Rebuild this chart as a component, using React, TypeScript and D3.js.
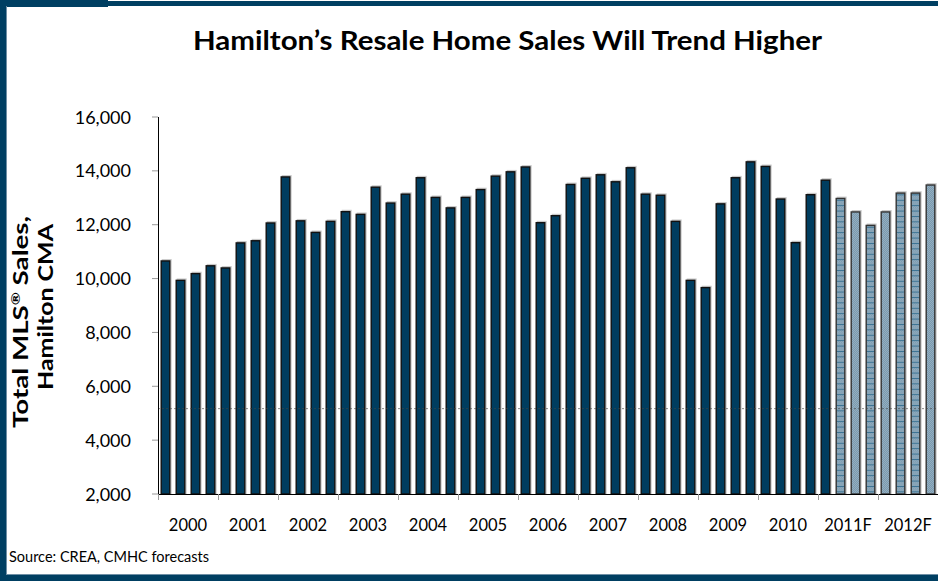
import React from "react";
import * as d3 from "d3";

const years = ["2000", "2001", "2002", "2003", "2004", "2005", "2006", "2007", "2008", "2009", "2010", "2011F", "2012F"];
const salesActual = [
  10680, 9960, 10210, 10500, 10420, 11350, 11430, 12090, 13800, 12170,
  11740, 12150, 12510, 12410, 13420, 12830, 13160, 13770, 13040, 12650,
  13040, 13330, 13830, 13990, 14170, 12100, 12360, 13520, 13750, 13880,
  13620, 14140, 13160, 13120, 12150, 9960, 9690, 12800, 13770, 14360,
  14190, 12980, 11360, 13140, 13680,
];
const salesForecast = [13000, 12500, 12000, 12500, 13200, 13200, 13500];
const forecastStyle = ["lines", "plain", "lines", "plain", "lines", "lines", "plain"];
const yTicks = [2000, 4000, 6000, 8000, 10000, 12000, 14000, 16000];
const refLineValue = 5170;

const W = 938;
const H = 581;
const M = { left: 158, right: 938, top: 117, bottom: 494 };
const FRAME = "#003f62";
const BAR = "#003d5f";
const FONT = "Lato, 'Open Sans', sans-serif";

export default function App() {
  const bars = [
    ...salesActual.map((v, i) => ({ i, v, f: false, style: "" })),
    ...salesForecast.map((v, j) => ({ i: salesActual.length + j, v, f: true, style: forecastStyle[j] })),
  ];
  const x = d3
    .scaleBand<number>()
    .domain(bars.map((b) => b.i))
    .range([M.left, M.right])
    .paddingInner(1 / 3)
    .paddingOuter(1 / 6);
  const xYear = d3.scaleBand<string>().domain(years).range([M.left, M.right]);
  const y = d3.scaleLinear().domain([2000, 16000]).range([M.bottom, M.top]);
  const bw = x.bandwidth();

  return (
    <svg width={W} height={H} style={{ position: "absolute", left: 0, top: 0, background: "#fff" }}>
      <defs>
        <pattern id="dither" width={2} height={2} patternUnits="userSpaceOnUse">
          <rect width={2} height={2} fill="#7a9aaf" />
          <rect width={1} height={1} fill="#94aec0" />
          <rect x={1} y={1} width={1} height={1} fill="#94aec0" />
        </pattern>
        <pattern id="hlines" width={4} height={5.4} patternUnits="userSpaceOnUse">
          <rect width={4} height={5.4} fill="url(#dither)" />
          <line x1={0} x2={4} y1={0.5} y2={0.5} stroke="#2f6b8d" strokeWidth={0.9} />
        </pattern>
      </defs>

      {/* title */}
      <text
        x={193}
        y={50}
        textLength={629}
        lengthAdjust="spacingAndGlyphs"
        fontFamily={FONT}
        fontWeight="bold"
        fontSize={26}
        fill="#000"
      >
        Hamilton’s Resale Home Sales Will Trend Higher
      </text>

      {/* y axis title */}
      <g transform="translate(28,428) rotate(-90)">
        <text x={0} y={0} textLength={212} lengthAdjust="spacingAndGlyphs" fontFamily={FONT} fontWeight="bold" fontSize={21} fill="#000">
          Total MLS
          <tspan fontSize={12} dy={-8}>®</tspan>
          <tspan dy={8}> Sales,</tspan>
        </text>
      </g>
      <g transform="translate(53,390) rotate(-90)">
        <text x={0} y={0} textLength={166} lengthAdjust="spacingAndGlyphs" fontFamily={FONT} fontWeight="bold" fontSize={21} fill="#000">
          Hamilton CMA
        </text>
      </g>

      {/* y ticks and labels */}
      {yTicks.map((t) => (
        <g key={t}>
          <line x1={M.left - 6} x2={M.left} y1={y(t)} y2={y(t)} stroke="#999" strokeWidth={1} />
          <text x={131} y={y(t) + 6.5} textAnchor="end" fontFamily={FONT} fontSize={18} fill="#000">
            {d3.format(",")(t)}
          </text>
        </g>
      ))}

      {/* bars */}
      {bars.map((b) => {
        const bx = x(b.i)!;
        const by = y(b.v);
        const h = M.bottom - by;
        return (
          <g key={b.i}>
            <rect x={bx + 1.2} y={by - 1.2} width={bw} height={h + 1.2} fill="#c9c9c9" />
            <rect
              x={bx + 0.7}
              y={by + 0.7}
              width={bw - 1.4}
              height={h - 0.7}
              fill={b.f ? (b.style === "lines" ? "url(#hlines)" : "url(#dither)") : BAR}
              stroke={b.f ? "#333" : "#111"}
              strokeWidth={1.4}
            />
          </g>
        );
      })}

      {/* dotted reference line */}
      <line
        x1={M.left}
        x2={M.right}
        y1={y(refLineValue)}
        y2={y(refLineValue)}
        stroke="#444"
        strokeWidth={1}
        strokeDasharray="2,2"
        opacity={0.6}
      />

      {/* axes */}
      <line x1={M.left + 0.5} x2={M.left + 0.5} y1={M.top} y2={M.bottom} stroke="#000" strokeWidth={1} />
      <line x1={M.left} x2={M.right} y1={M.bottom + 0.5} y2={M.bottom + 0.5} stroke="#000" strokeWidth={1} />
      {years.map((yr) => (
        <line
          key={yr}
          x1={xYear(yr)! + 0.5}
          x2={xYear(yr)! + 0.5}
          y1={M.bottom}
          y2={M.bottom + 6}
          stroke="#999"
          strokeWidth={1}
        />
      ))}
      {years.map((yr) => (
        <text
          key={yr}
          x={xYear(yr)! + xYear.bandwidth() / 2}
          y={531}
          textAnchor="middle"
          fontFamily={FONT}
          fontSize={16.5}
          fill="#000"
        >
          {yr}
        </text>
      ))}

      {/* source */}
      <text x={9} y={562} fontFamily={FONT} fontSize={14.5} fill="#000">
        Source: CREA, CMHC forecasts
      </text>

      {/* frame */}
      <rect x={0} y={1} width={W} height={5} fill={FRAME} />
      <rect x={0} y={0} width={108} height={7} fill={FRAME} />
      <rect x={0} y={0} width={6} height={H} fill={FRAME} />
      <rect x={0} y={575} width={W} height={6} fill={FRAME} />
      <line x1={6.5} x2={6.5} y1={6} y2={575} stroke="#6f8fa5" strokeWidth={1} />
      <line x1={6} x2={W} y1={574.5} y2={574.5} stroke="#6f8fa5" strokeWidth={1} />
    </svg>
  );
}
